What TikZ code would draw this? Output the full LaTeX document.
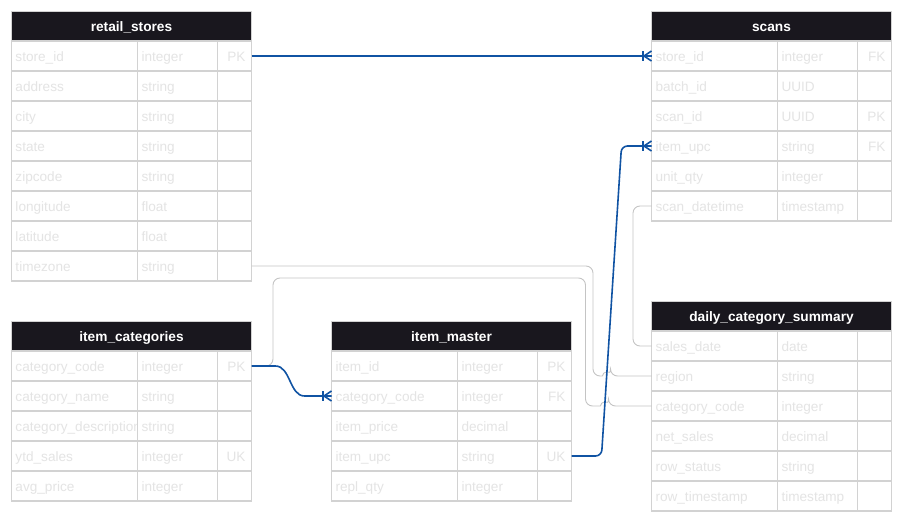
\documentclass[tikz,border=0pt]{standalone}
\usepackage{fontspec}
\setmainfont{Liberation Sans}
\usetikzlibrary{calc}
\definecolor{hdrcol}{HTML}{19171E}
\definecolor{cellgrey}{HTML}{D2D2D2}
\definecolor{txtgrey}{HTML}{E4E4E4}
\definecolor{erblue}{HTML}{1053A3}
\definecolor{lgrey}{HTML}{C4C4C4}
\newcommand{\rowfont}{\fontsize{13.6}{16}\selectfont}
\newcommand{\hdrfont}{\fontsize{13.7}{16}\selectfont\bfseries}
\tikzset{
  hdr/.style={draw=cellgrey, line width=1.4pt, fill=hdrcol, text=white, font=\hdrfont,
    minimum width=240pt, minimum height=29.5pt, inner sep=0pt, outer sep=0pt,
    text height=10pt, text depth=0pt, anchor=north west},
  cell/.style={draw=cellgrey, line width=1.4pt, fill=white, minimum height=30pt,
    inner ysep=0pt, outer sep=0pt, text=txtgrey, font=\rowfont,
    text height=10pt, text depth=0pt, anchor=north west},
  namecell/.style={cell, text width=118pt, inner xsep=4pt, align=left},
  typecell/.style={cell, text width=72pt, inner xsep=4pt, align=left},
  keycell/.style={cell, text width=22pt, inner xsep=6pt, align=right},
  er/.style={draw=erblue, line width=1.6pt},
  gl/.style={draw=lgrey, line width=0.9pt, rounded corners=7pt},
}
\newcommand{\ertable}[4]{%
  \node[hdr] (#1-h) at (#2) {#3};
  \foreach \fn/\ft/\fk [count=\i] in {#4} {
    \node[namecell] (#1-\i) at ($(#1-h.south west)+(0,{30*(\i-1)})$) {\mbox{\fn}};
    \node[typecell] (#1-\i-t) at (#1-\i.north east) {\mbox{\ft}};
    \node[keycell] (#1-\i-k) at (#1-\i-t.north east) {\mbox{\fk}};
  }%
}
\newcommand{\crowfoot}[1]{%
  \draw[er] ($(#1)+(-8.5,-5)$) -- ($(#1)+(-8.5,5)$);
  \draw[er] ($(#1)+(-7.5,0)$) -- ($(#1)+(0,-5)$);
  \draw[er] ($(#1)+(-7.5,0)$) -- ($(#1)+(0,5)$);
}
\begin{document}
\begin{tikzpicture}[x=1pt, y=-1pt]
\useasboundingbox (0,0) rectangle (902,522);

\ertable{rs}{11.5,11.5}{retail\_stores}{store\_id/integer/PK, address/string/{}, city/string/{}, state/string/{}, zipcode/string/{}, longitude/float/{}, latitude/float/{}, timezone/string/{}}
\ertable{sc}{651.5,11.5}{scans}{store\_id/integer/FK, batch\_id/UUID/{}, scan\_id/UUID/PK, item\_upc/string/FK, unit\_qty/integer/{}, scan\_datetime/timestamp/{}}
\ertable{ic}{11.5,321.5}{item\_categories}{category\_code/integer/PK, category\_name/string/{}, category\_description/string/{}, ytd\_sales/integer/UK, avg\_price/integer/{}}
\ertable{im}{331.5,321.5}{item\_master}{item\_id/integer/PK, category\_code/integer/FK, item\_price/decimal/{}, item\_upc/string/UK, repl\_qty/integer/{}}
\ertable{dcs}{651.5,301.5}{daily\_category\_summary}{sales\_date/date/{}, region/string/{}, category\_code/integer/{}, net\_sales/decimal/{}, row\_status/string/{}, row\_timestamp/timestamp/{}}

% grey connectors
\coordinate (hopA) at ([xshift=-49pt]dcs-2.west);
\coordinate (hopB) at ([xshift=-51pt]dcs-3.west);
\draw[gl] (rs-8-k.east) -| ([xshift=-58.5pt]dcs-2.west) -- (hopA);
\draw[gl] (hopA) arc[start angle=180, end angle=0, radius=4pt] -- (dcs-2.west);
\draw[gl] (ic-1-k.east) -- ++(21.5,0) -- ++(0,-88) -| ([xshift=-66pt]dcs-3.west) -- (hopB);
\draw[gl] (hopB) arc[start angle=180, end angle=0, radius=4pt] -- (dcs-3.west);
\draw[gl] (sc-6.west) -- ++(-18.5,0) |- (dcs-1.west);

% blue connectors
\draw[er] (rs-1-k.east) -- (sc-1.west);
\crowfoot{sc-1.west}
\draw[er] (ic-1-k.east) -- ++(24,0) .. controls +(15,0) and +(-15,0) .. ([xshift=-27pt]im-2.west) -- (im-2.west);
\crowfoot{im-2.west}
\draw[er, rounded corners=6pt] (im-4-k.east) -- ++(30,0) -- ([xshift=-30pt]sc-4.west) -- (sc-4.west);
\crowfoot{sc-4.west}
\end{tikzpicture}
\end{document}
